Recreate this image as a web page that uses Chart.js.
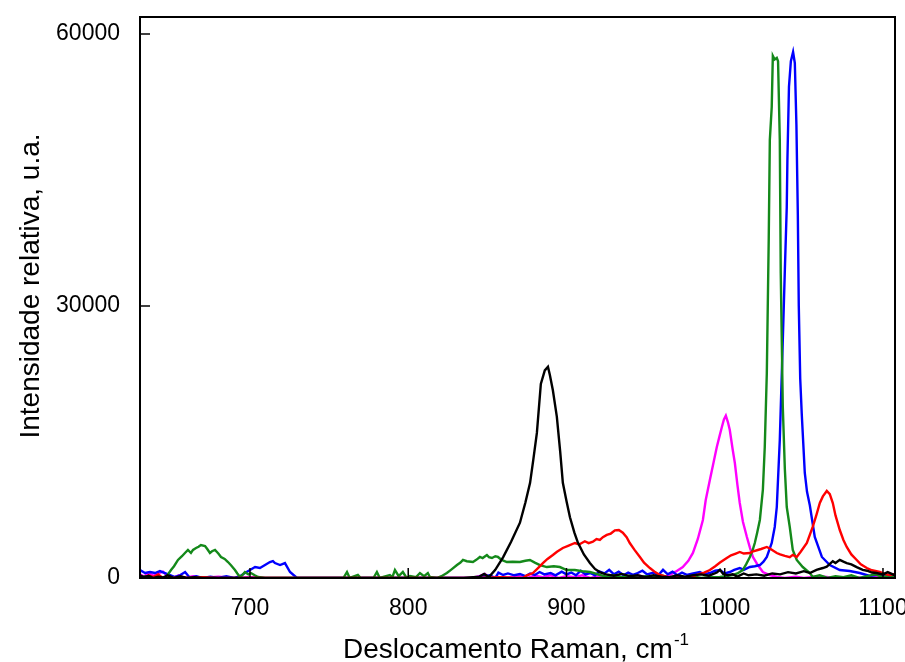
<!DOCTYPE html>
<html>
<head>
<meta charset="utf-8">
<script src="https://cdn.jsdelivr.net/npm/chart.js@4.4.1/dist/chart.umd.min.js"></script>
<style>
  html, body { margin: 0; padding: 0; background: #fff; }
  #wrap { width: 905px; height: 662px; }
</style>
</head>
<body>
<div id="wrap"><canvas id="c" width="905" height="662"></canvas></div>
<script>
// Raman spectra: shift (cm-1) vs relative intensity (a.u.)
const xTickValues = [700, 800, 900, 1000, 1100];
const yTickValues = [0, 30000, 60000];

const blackX = [630.5,633,636,639,642,645,648,652,656,660,665,670,680,690,700,720,740,760,780,800,820,835,845,848,851,855,860,865,870.6,874,877,879,881.3,883.8,886.3,888.3,889.5,891.4,893.9,896,897.7,900,902.2,905,907.2,911,914.8,918,921,925,930,935,940,945,950,955,960,965,970,975,980,985,990,995,997,999,1002,1005,1008,1012,1015,1020,1025,1030,1035,1040,1045,1050,1053.8,1058,1062,1064.5,1068.3,1070,1072.7,1075,1077.1,1080,1083.4,1087.2,1090,1093,1096,1100,1103,1107.6];
const blackY = [300,100,250,0,150,50,300,0,200,0,100,0,0,0,0,0,0,0,0,0,0,0,150,450,100,900,2300,4000,6100,8300,10500,13000,16000,21400,22900,23300,22400,20700,17800,14000,10500,8500,6700,5000,3900,2600,1650,1000,650,400,250,450,200,300,100,300,150,100,300,150,300,400,250,600,900,450,300,400,150,500,300,400,250,500,400,650,500,750,550,900,1100,1250,1850,1650,2000,1800,1650,1500,1200,900,800,600,550,400,650,300];

const redX = [630.5,633,636,639,642,645,648,652,656,660,670,680,700,720,740,760,780,800,820,840,860,867,872.5,875,878.8,882,885.1,888,891.4,894,897.7,901,905.3,908,911.6,914,916.7,919,921.1,923,925.5,928,930.6,933.1,935.6,938,940,943,946.4,949,952.7,956,959,962,965.3,970,975,980,984.3,987,990.6,994,997,1001.3,1004,1007,1009.5,1012,1015.9,1018,1020.9,1023,1026.6,1029,1032.9,1035,1038,1041.1,1043,1045.5,1048,1051.9,1055.6,1058,1060.1,1062,1064.5,1066.4,1068.3,1070,1072.7,1075,1077.1,1080,1083.4,1086,1089.8,1093,1098,1101,1104.3,1107.6];
const redY = [150,0,300,100,400,0,200,0,150,0,100,0,0,0,0,0,0,0,0,0,100,0,0,300,550,1100,1650,2100,2540,2900,3310,3550,3860,3700,4050,3850,4000,4300,4200,4500,4750,4900,5250,5300,5000,4500,3860,3100,2320,1700,1100,650,330,200,0,100,0,200,450,600,880,1300,1700,2200,2500,2700,2870,2700,2760,2950,3090,3200,3420,3200,2760,2600,2430,2300,2550,2320,2900,3860,5630,7000,8270,9000,9600,9250,8270,6900,5290,4200,3420,2600,1990,1500,1100,850,660,450,330,440];

const greenX = [630.5,634,638,642,646,647,650.1,652,654.5,657,658.9,660.8,662.7,664,665.9,667.5,669,671.6,673,674.7,676,677.9,680,681.7,684,686.1,688,690.5,692,693.7,695,696.8,699,700.6,703,705.1,709.5,720,740,755,759,761.3,763,768.2,770,778,780.2,782,788.4,790,791.6,794,796.6,799,801.1,805,807.4,810,812.4,813.7,818.1,821,824.4,827,830.8,833,834.6,837,840.9,843,845.3,847,849.7,851,852.9,855,856.7,859,862.3,866,870.6,874,876.9,880,883.2,887.6,892,895.8,900.2,905.3,910,914.8,918,921.1,925,930,935,940,945,950,955,960,965,970,975,980,985,990,996.9,1001,1005.1,1008,1011.4,1013.5,1015.9,1017.5,1019,1020.5,1022.2,1024.1,1025.3,1026.6,1027.8,1028.5,1029.7,1030.4,1031.5,1032.9,1033.7,1034.8,1035.4,1036.7,1038,1039.2,1041.1,1043,1045.5,1049.3,1053.8,1055.6,1060,1065,1070,1075,1080,1085,1090,1095,1100,1104,1107.6];
const greenY = [0,200,0,100,0,110,880,1300,1990,2400,2760,3090,2760,3100,3310,3450,3640,3530,3200,2760,2950,3090,2700,2320,2100,1760,1400,880,500,110,300,660,400,550,300,110,0,0,0,0,0,660,0,330,0,0,660,0,330,100,880,200,660,0,220,100,550,200,550,110,0,200,550,900,1430,1700,1990,1850,1760,2000,2320,2200,2540,2300,2210,2400,2320,2000,1760,1800,1760,1900,1990,1700,1430,1210,1300,1210,880,880,750,660,500,330,150,300,100,250,0,200,100,300,0,150,0,200,0,100,110,200,330,500,880,1500,2320,3000,3860,5000,6400,9710,14450,22610,37280,48300,51950,57580,57200,57360,57000,48300,33640,18860,12000,7830,5630,3090,1990,1210,550,110,300,0,200,100,300,0,200,400,100,300,0];

const blueX = [630.5,633.7,636.8,640,643.1,646.3,649.5,652.6,655.8,659,662.1,666,670,675,680,685,690,693.7,696.8,700,703.2,706.3,709.5,712.6,714.5,715.8,719,722.1,725.3,729.7,740,760,780,800,820,840,848,851.6,855,857,860,863,867,870.6,874,877,880,883,886,890,893,897,900,903,906,909,912,915,918,921,924,927,930,933,936,939,942,945,948,951,955,958,961,964,967,970,973,976,980,984.3,987,990.6,994,996.9,1000,1003.2,1006,1009.5,1012,1015.9,1019,1022.2,1024.5,1026.6,1029.7,1031.6,1032.9,1034.8,1036.7,1038,1039.2,1039.6,1040.6,1041.8,1043.2,1044.3,1045.3,1046.2,1046.8,1047.7,1048.7,1050.6,1052,1053.8,1056.9,1061.4,1066.4,1072.7,1079,1085.3,1091.7,1098,1102.4,1107.6];
const blueY = [880,550,660,550,770,550,330,110,300,660,0,200,0,150,0,200,0,200,550,880,1210,1100,1430,1760,1870,1650,1430,1650,660,0,0,0,0,0,0,0,200,300,0,600,330,500,300,440,200,500,330,660,400,550,300,700,400,600,300,800,400,550,300,700,500,900,400,700,300,600,350,550,800,400,600,300,900,400,700,300,600,350,500,660,400,550,800,880,500,660,900,1100,900,1210,1300,1430,1800,2320,3860,5630,7830,15220,26250,34000,40920,46000,54200,57000,58020,56800,50000,40000,30000,22000,18000,11580,9500,8000,4520,2320,1430,880,770,550,220,400,110,300];

const magentaX = [630.5,633,636,639,642,645,648,651,655,659,664,670,680,690,700,710,720,740,760,780,800,820,840,845,848.5,851,856,860,870,875,880,885,890,895,900,905,910,915,920,925,930,935,940,945,950,955,960,965.3,969,973.5,977,979.9,983,986.2,988,990.6,993,995,996.8,998.2,999.5,1000.7,1002,1003.2,1005,1006.4,1008,1009.5,1011.5,1014,1016,1017.8,1020.9,1024.1,1028.5,1032.9,1038,1045,1050,1060,1070,1080,1090,1100,1107.6];
const magentaY = [400,150,600,250,500,700,200,0,300,0,200,0,150,0,100,0,0,0,0,0,0,0,0,200,450,0,150,0,200,0,250,100,300,0,200,100,300,0,200,100,250,0,150,300,100,200,0,330,700,1210,1900,2760,4300,6400,8600,10810,12800,14450,15700,16660,17500,17900,17200,16320,14200,12680,10300,8270,6200,4520,3300,2320,1430,660,330,110,0,150,0,200,0,100,0,200,0];

function points(xs, ys) {
  return xs.map((x, i) => ({ x: x, y: ys[i] }));
}

const FONT = '"Liberation Sans", Arial, Helvetica, sans-serif';

// Box around the plot, short inward ticks and the two axis titles
const framePlugin = {
  id: 'frame',
  afterDatasetsDraw(chart) {
    const { ctx, chartArea: a, scales } = chart;
    ctx.save();
    ctx.strokeStyle = '#000';
    ctx.lineWidth = 2;
    ctx.strokeRect(a.left, a.top, a.right - a.left, a.bottom - a.top);
    ctx.lineWidth = 1.5;
    ctx.beginPath();
    xTickValues.forEach(v => {
      const px = scales.x.getPixelForValue(v);
      ctx.moveTo(px, a.bottom);
      ctx.lineTo(px, a.bottom - 10);
    });
    yTickValues.forEach(v => {
      const py = scales.y.getPixelForValue(v);
      ctx.moveTo(a.left, py);
      ctx.lineTo(a.left + 10, py);
    });
    ctx.stroke();
    ctx.restore();
  },
  afterDraw(chart) {
    const { ctx, chartArea: a } = chart;
    ctx.save();
    ctx.fillStyle = '#000';
    // x title with superscript exponent
    const main = 'Deslocamento Raman, cm';
    const sup = '-1';
    ctx.font = '28px ' + FONT;
    const w1 = ctx.measureText(main).width;
    ctx.font = '17px ' + FONT;
    const w2 = ctx.measureText(sup).width;
    const cx = (a.left + a.right) / 2;
    const x0 = cx - (w1 + w2) / 2 - 2;
    ctx.textAlign = 'left';
    ctx.textBaseline = 'alphabetic';
    ctx.font = '28px ' + FONT;
    ctx.fillText(main, x0, 658);
    ctx.font = '17px ' + FONT;
    ctx.fillText(sup, x0 + w1 + 1, 645);
    // y title
    ctx.font = '28px ' + FONT;
    ctx.translate(31, 286);
    ctx.rotate(-Math.PI / 2);
    ctx.textAlign = 'center';
    ctx.textBaseline = 'middle';
    ctx.fillText('Intensidade relativa, u.a.', 0, 0);
    ctx.restore();
  }
};

const series = [
  { label: 'preto', xs: blackX, ys: blackY, color: '#000000' },
  { label: 'vermelho', xs: redX, ys: redY, color: '#ff0000' },
  { label: 'verde', xs: greenX, ys: greenY, color: '#14891a' },
  { label: 'azul', xs: blueX, ys: blueY, color: '#0000ff' },
  { label: 'magenta', xs: magentaX, ys: magentaY, color: '#ff00ff' }
];

new Chart(document.getElementById('c'), {
  type: 'line',
  data: {
    datasets: series.map(s => ({
      label: s.label,
      data: points(s.xs, s.ys),
      borderColor: s.color,
      borderWidth: 2.4,
      pointRadius: 0,
      tension: 0,
      fill: false
    }))
  },
  options: {
    responsive: false,
    animation: false,
    layout: { padding: { left: 0, right: 10, top: 17, bottom: 0 } },
    plugins: { legend: { display: false }, tooltip: { enabled: false } },
    scales: {
      x: {
        type: 'linear',
        min: 630.5,
        max: 1107.6,
        grid: { display: false, drawTicks: false },
        border: { display: false },
        afterBuildTicks: s => { s.ticks = xTickValues.map(v => ({ value: v })); },
        afterFit: s => { s.height = 84; s.paddingLeft = 0; s.paddingRight = 0; },
        ticks: {
          color: '#000',
          font: { family: FONT, size: 23 },
          padding: 17,
          maxRotation: 0,
          callback: v => String(v)
        }
      },
      y: {
        type: 'linear',
        min: 0,
        max: 61875,
        grid: { display: false, drawTicks: false },
        border: { display: false },
        afterBuildTicks: s => { s.ticks = yTickValues.map(v => ({ value: v })); },
        afterFit: s => { s.width = 140; s.paddingTop = 0; s.paddingBottom = 0; },
        ticks: {
          color: '#000',
          font: { family: FONT, size: 23 },
          padding: 20,
          callback: v => String(v)
        }
      }
    }
  },
  plugins: [framePlugin]
});
</script>
</body>
</html>
